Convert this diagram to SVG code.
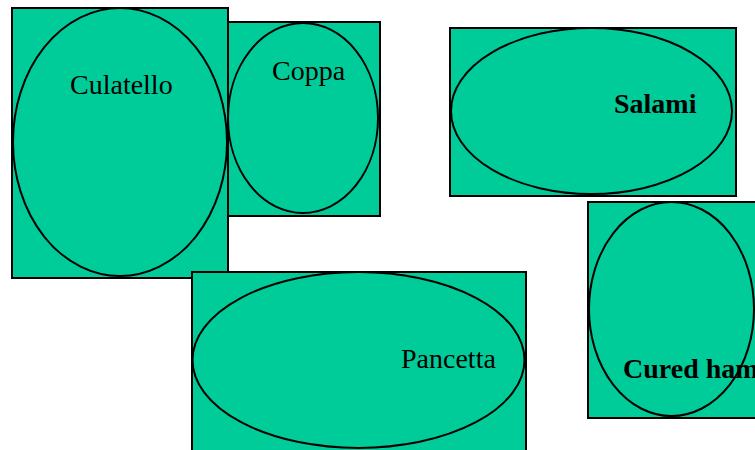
<svg xmlns="http://www.w3.org/2000/svg" width="755" height="450" viewBox="0 0 755 450">
<style>
.box{fill:#00CC99;stroke:#000;stroke-width:2}
.ell{fill:#00CC99;stroke:#000;stroke-width:2}
.t{font-family:"Liberation Serif","Times New Roman",serif;font-size:28px;fill:#000}
.b{font-weight:bold}
</style>
<rect width="755" height="450" fill="#fff"/>
<g id="culatello">
<rect class="box" x="12" y="8" width="216" height="270"/>
<ellipse class="ell" cx="120" cy="142" rx="107" ry="134"/>
<text class="t" x="70" y="94">Culatello</text>
</g>
<g id="coppa">
<rect class="box" x="228" y="22" width="152" height="194"/>
<ellipse class="ell" cx="303" cy="118" rx="75" ry="95"/>
<text class="t" x="272" y="80">Coppa</text>
</g>
<g id="salami">
<rect class="box" x="450" y="28" width="286" height="168"/>
<ellipse class="ell" cx="591.5" cy="111" rx="140.5" ry="83"/>
<text class="t b" x="614" y="113">Salami</text>
</g>
<g id="cured-ham">
<rect class="box" x="588" y="202" width="180" height="216"/>
<ellipse class="ell" cx="671.5" cy="309" rx="82.5" ry="107"/>
<text class="t b" x="623" y="378">Cured ham</text>
</g>
<g id="pancetta">
<rect class="box" x="192" y="272" width="334" height="190"/>
<ellipse class="ell" cx="358.5" cy="360" rx="166" ry="88"/>
<text class="t" x="401" y="368">Pancetta</text>
</g>
<g id="connectors"></g>
</svg>
